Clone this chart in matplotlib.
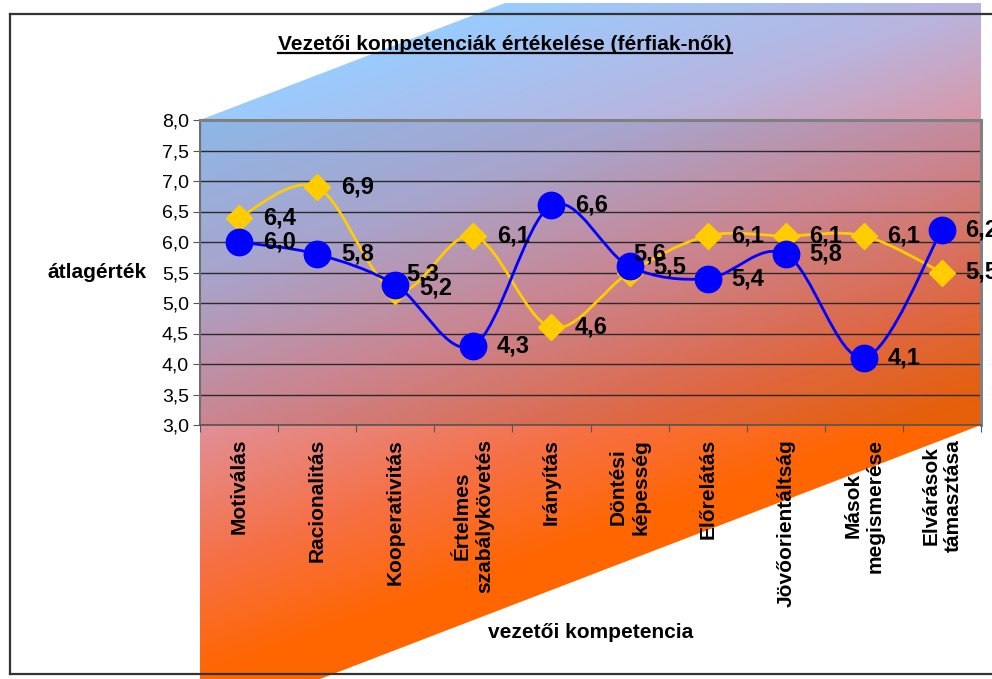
import numpy as np
import matplotlib
matplotlib.use("Agg")
import matplotlib.pyplot as plt
from matplotlib.path import Path
from matplotlib.patches import PathPatch, Polygon
from matplotlib.colors import LinearSegmentedColormap
from matplotlib.lines import Line2D

plt.rcParams['font.family'] = ['Liberation Sans', 'DejaVu Sans']

# data
categories = ['Motiválás', 'Racionalitás', 'Kooperativitás', 'Értelmes\nszabálykövetés',
              'Irányítás', 'Döntési\nképesség', 'Előrelátás', 'Jövőorientáltság',
              'Mások\nmegismerése', 'Elvárások\ntámasztása']
yellow_vals = [6.4, 6.9, 5.2, 6.1, 4.6, 5.5, 6.1, 6.1, 6.1, 5.5]
blue_vals = [6.0, 5.8, 5.3, 4.3, 6.6, 5.6, 5.4, 5.8, 4.1, 6.2]
yticks = [3.0, 3.5, 4.0, 4.5, 5.0, 5.5, 6.0, 6.5, 7.0, 7.5, 8.0]

W, H = 992, 679
fig = plt.figure(figsize=(W / 100, H / 100), dpi=100)

# background: gradient "box" shape in pixel coords
bg = fig.add_axes([0, 0, 1, 1])
bg.set_xlim(0, W)
bg.set_ylim(H, 0)
bg.axis('off')

xx, yy = np.meshgrid(np.arange(W), np.arange(H))
t = 0.000624 * (xx - 500) + 0.001756 * (yy - 3)
cmap = LinearSegmentedColormap.from_list('fill', [
    (0.0, (153/255, 204/255, 255/255)),
    (0.3, (185/255, 180/255, 222/255)),
    (0.55, (224/255, 145/255, 155/255)),
    (0.8, (246/255, 112/255, 70/255)),
    (1.0, (255/255, 102/255, 0/255))])
img = bg.imshow(t, extent=(0, W, H, 0), cmap=cmap, vmin=0, vmax=1, aspect='auto', zorder=1)
shape = Polygon([(200, 120), (505, 3), (981, 3), (981, 425), (320, 679), (200, 679)],
                closed=True, transform=bg.transData, facecolor='none', edgecolor='none')
bg.add_patch(shape)
img.set_clip_path(shape)

# chart border
for xs, ys in [((10, 10), (14, 674)), ((10, W), (14, 14)), ((10, W), (674, 674))]:
    bg.plot(xs, ys, color='#333333', lw=1.6, zorder=5, solid_capstyle='projecting')

# main plot area
ax = fig.add_axes([200 / W, 1 - 425 / H, 781 / W, 305 / H])
ax.set_facecolor((0.2, 0.2, 0.3, 0.12))
x = np.arange(len(categories))
ax.set_xlim(-0.5, len(categories) - 0.5)
ax.set_ylim(3, 8)


def smooth_path(xv, yv):
    # Excel-like smoothed line: cubic bezier through the points
    pts = np.column_stack([xv, yv]).astype(float)
    verts = [pts[0]]
    codes = [Path.MOVETO]
    n = len(pts)
    for i in range(n - 1):
        p0 = pts[i - 1] if i > 0 else pts[i]
        p1 = pts[i]
        p2 = pts[i + 1]
        p3 = pts[i + 2] if i + 2 < n else pts[i + 1]
        verts += [p1 + (p2 - p0) / 6, p2 - (p3 - p1) / 6, p2]
        codes += [Path.CURVE4] * 3
    return Path(verts, codes)


ax.add_patch(PathPatch(smooth_path(x, yellow_vals), facecolor='none', edgecolor='#FFCC00', lw=2, zorder=3))
ax.plot(x, yellow_vals, ls='none', marker='D', ms=13, color='#FFCC00', zorder=4)
ax.add_patch(PathPatch(smooth_path(x, blue_vals), facecolor='none', edgecolor='#0000FF', lw=2, zorder=5))
ax.plot(x, blue_vals, ls='none', marker='o', ms=19, color='#0000FF', zorder=6)

# data labels (a few were nudged by hand in the original)
for i, v in enumerate(yellow_vals):
    dx, dy = (17, 0)
    if i == 2:
        dx, dy = (17, 2)
    if i == 5:
        dx, dy = (17, 4)
    ax.annotate(f'{v:.1f}'.replace('.', ','), (x[i], v), xytext=(dx, dy), textcoords='offset points',
                ha='left', va='center', fontsize=17, fontweight='bold', zorder=8)
for i, v in enumerate(blue_vals):
    dx, dy = (17, 0)
    if i == 2:
        dx, dy = (8, 8)
    if i == 5:
        dx, dy = (3, 9)
    ax.annotate(f'{v:.1f}'.replace('.', ','), (x[i], v), xytext=(dx, dy), textcoords='offset points',
                ha='left', va='center', fontsize=17, fontweight='bold', zorder=8)

# axes styling
ax.set_yticks(yticks)
ax.set_yticklabels([f'{v:.1f}'.replace('.', ',') for v in yticks], fontsize=14)
ax.yaxis.grid(True, color='#2a2a2a', lw=1)
ax.set_axisbelow(True)
ax.tick_params(axis='y', direction='out', length=5, color='#555555', pad=3)
ax.set_xticks(np.arange(len(categories) + 1) - 0.5)
ax.set_xticklabels([])
ax.tick_params(axis='x', which='major', direction='out', length=5, color='#555555')
ax.set_xticks(x, minor=True)
ax.set_xticklabels(categories, minor=True, rotation=90, fontsize=15, fontweight='bold',
                   va='top', ha='center', multialignment='center')
ax.tick_params(axis='x', which='minor', length=0, pad=10)
for side in ['top', 'right']:
    ax.spines[side].set_color('#808080')
    ax.spines[side].set_linewidth(2.2)
ax.spines['left'].set_color('#707070')
ax.spines['left'].set_linewidth(1.5)
ax.spines['bottom'].set_color('#555555')
ax.spines['bottom'].set_linewidth(1.2)

fig.text(97 / W, 1 - 273 / H, 'átlagérték', ha='center', va='center', fontsize=15, fontweight='bold')
fig.text(591 / W, 1 - 632 / H, 'vezetői kompetencia', ha='center', va='center', fontsize=15, fontweight='bold')
title = fig.text(505 / W, 1 - 45 / H, 'Vezetői kompetenciák értékelése (férfiak-nők)',
                 ha='center', va='center', fontsize=15, fontweight='bold')

# underline the title
fig.canvas.draw()
bb = title.get_window_extent(fig.canvas.get_renderer())
uy = bb.y0 + 2
fig.add_artist(Line2D([bb.x0 / W, bb.x1 / W], [uy / H, uy / H], transform=fig.transFigure,
                      color='black', lw=1.6))

fig.savefig('out.png', dpi=100)
